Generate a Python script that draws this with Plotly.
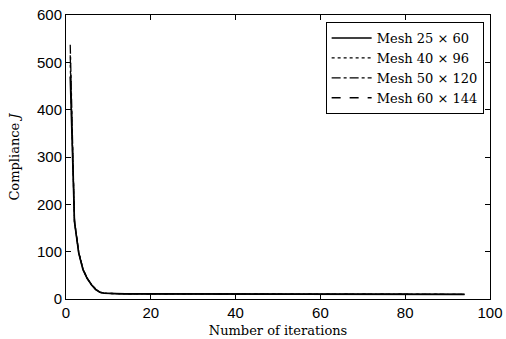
import plotly.graph_objects as go

iterations = list(range(1, 95))
mesh_25 = [470, 163, 97, 62, 43, 30, 20, 14, 12, 11.5] + [10.8]*10 + [10.2]*20 + [9.9]*20 + [9.7]*34
mesh_40 = [495, 164, 98, 63, 44, 30, 20.5, 14.2, 12.2, 11.6] + [10.9]*10 + [10.3]*20 + [10.0]*20 + [9.8]*34
mesh_50 = [537, 166, 99, 64, 44, 31, 21, 14.5, 12.3, 11.7] + [11.0]*10 + [10.4]*20 + [10.1]*20 + [9.9]*34
mesh_60 = [515, 165, 98, 63, 43.5, 30.5, 20.5, 14.3, 12.2, 11.6] + [10.9]*10 + [10.3]*20 + [10.0]*20 + [9.8]*34

names = ["Mesh 25 × 60", "Mesh 40 × 96", "Mesh 50 × 120", "Mesh 60 × 144"]
series = [mesh_25, mesh_40, mesh_50, mesh_60]
dashes = ["solid", "dot", "dashdot", "dash"]

fig = go.Figure()
for n, s, d in zip(names, series, dashes):
    fig.add_trace(go.Scatter(x=iterations, y=s, mode="lines", name=n,
                             line=dict(color="black", width=1.6 if d == "solid" else 1.3, dash=d)))

serif = "DejaVu Serif, Liberation Serif, serif"
axis_common = dict(showline=True, linecolor="black", linewidth=1, mirror="allticks",
                   ticks="inside", ticklen=5, tickcolor="black", showgrid=False, zeroline=False,
                   automargin=False,
                   tickfont=dict(family="Liberation Sans, Arial", size=15, color="black"))
fig.update_layout(
    width=506, height=339,
    margin=dict(l=66, r=16, t=15, b=40),
    paper_bgcolor="white", plot_bgcolor="white",
    xaxis=dict(range=[0, 100], dtick=20, title=dict(text="Number of iterations", standoff=5,
               font=dict(family=serif, size=13, color="black")), **axis_common),
    yaxis=dict(range=[0, 600], dtick=100, title=dict(text="Compliance <i>J</i>", standoff=14,
               font=dict(family=serif, size=13, color="black")), **axis_common),
    legend=dict(x=0.985, y=0.975, xanchor="right", yanchor="top", bgcolor="white",
                bordercolor="black", borderwidth=1, tracegroupgap=0, itemwidth=40,
                font=dict(family=serif, size=13, color="black")),
    showlegend=True,
)
fig.write_html("out.html", config={"displayModeBar": False},
               post_script="document.body.style.margin='0';")
